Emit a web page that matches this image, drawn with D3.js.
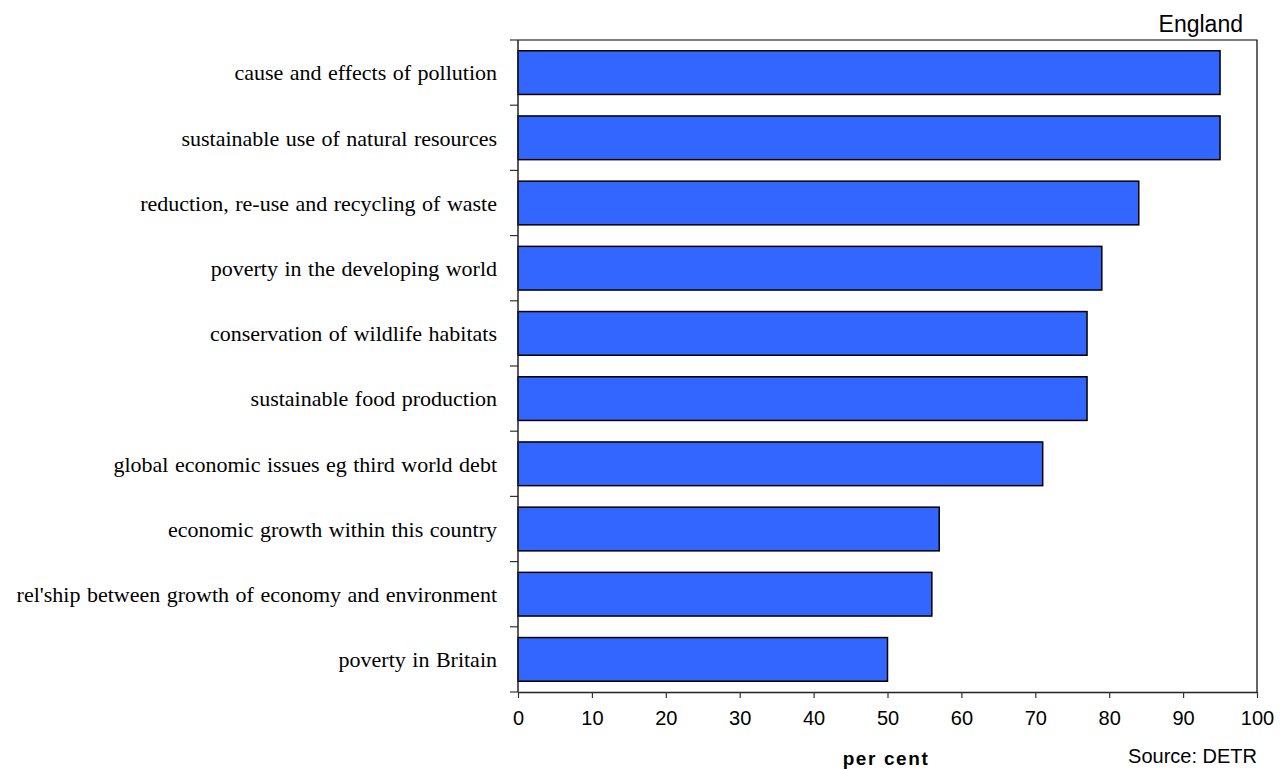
<!DOCTYPE html>
<html>
<head>
<meta charset="utf-8">
<script src="https://cdn.jsdelivr.net/npm/d3@7"></script>
<style>
  html, body { margin: 0; padding: 0; background: #fff; }
  svg { display: block; }
</style>
</head>
<body>
<svg id="chart" width="1280" height="769"></svg>
<script>
// Topics and share of respondents (per cent)
const topics = [
  "cause and effects of pollution",
  "sustainable use of natural resources",
  "reduction, re-use and recycling of waste",
  "poverty in the developing world",
  "conservation of wildlife habitats",
  "sustainable food production",
  "global economic issues eg third world debt",
  "economic growth within this country",
  "rel'ship between growth of economy and environment",
  "poverty in Britain"
];
const percents = [95, 95, 84, 79, 77, 77, 71, 57, 56, 50];
const xTicks = [0, 10, 20, 30, 40, 50, 60, 70, 80, 90, 100];

const svg = d3.select("#chart");
const plotLeft = 518, plotRight = 1257, plotTop = 40, plotBottom = 692;

const x = d3.scaleLinear().domain([0, 100]).range([plotLeft, plotRight]);
const y = d3.scaleBand().domain(topics).range([plotTop, plotBottom]).paddingInner(0.33).paddingOuter(0.165);

// frame (top and right edges)
svg.append("path")
  .attr("d", `M${plotLeft},${plotTop}H${plotRight}V${plotBottom}`)
  .attr("fill", "none").attr("stroke", "#000").attr("stroke-width", 1.2);

// bars
svg.append("g").selectAll("rect")
  .data(percents)
  .join("rect")
  .attr("x", x(0))
  .attr("y", (d, i) => y(topics[i]))
  .attr("width", d => x(d) - x(0))
  .attr("height", y.bandwidth())
  .attr("fill", "#3366FF")
  .attr("stroke", "#000")
  .attr("stroke-width", 1.5);

// category separators on the left axis
const bounds = d3.range(topics.length + 1).map(i => plotTop + i * (plotBottom - plotTop) / topics.length);
svg.append("g").selectAll("line")
  .data(bounds)
  .join("line")
  .attr("x1", plotLeft - 8).attr("x2", plotLeft)
  .attr("y1", d => d).attr("y2", d => d)
  .attr("stroke", "#333").attr("stroke-width", 1.2);

// left axis line
svg.append("line")
  .attr("x1", plotLeft).attr("x2", plotLeft).attr("y1", plotTop).attr("y2", plotBottom)
  .attr("stroke", "#222").attr("stroke-width", 1.5);

// category labels
svg.append("g").selectAll("text")
  .data(topics)
  .join("text")
  .attr("x", 497)
  .attr("y", d => y(d) + y.bandwidth() / 2)
  .attr("dy", "0.35em")
  .attr("text-anchor", "end")
  .attr("font-family", "'Liberation Serif', 'Times New Roman', serif")
  .attr("font-size", 22)
  .attr("word-spacing", 1)
  .attr("fill", "#000")
  .text(d => d);

// bottom axis
const xAxis = d3.axisBottom(x).tickValues(xTicks).tickSize(6).tickSizeOuter(0).tickPadding(13);
const gx = svg.append("g").attr("transform", `translate(0,${plotBottom})`).call(xAxis);
gx.select(".domain").attr("stroke", "#222").attr("stroke-width", 1.5);
gx.selectAll(".tick line").attr("stroke", "#333").attr("stroke-width", 1.2);
gx.selectAll(".tick text")
  .attr("font-family", "'Liberation Sans', Arial, sans-serif")
  .attr("font-size", 20)
  .attr("fill", "#000");

// axis title
svg.append("text")
  .attr("x", 886).attr("y", 765)
  .attr("text-anchor", "middle")
  .attr("font-family", "'Liberation Sans', Arial, sans-serif")
  .attr("font-size", 19).attr("font-weight", "bold")
  .attr("letter-spacing", 1.6)
  .text("per cent");

// region label
svg.append("text")
  .attr("x", 1243).attr("y", 32)
  .attr("text-anchor", "end")
  .attr("font-family", "'Liberation Sans', Arial, sans-serif")
  .attr("font-size", 23)
  .text("England");

// source note
svg.append("text")
  .attr("x", 1257).attr("y", 763)
  .attr("text-anchor", "end")
  .attr("font-family", "'Liberation Sans', Arial, sans-serif")
  .attr("font-size", 20)
  .text("Source: DETR");
</script>
</body>
</html>
